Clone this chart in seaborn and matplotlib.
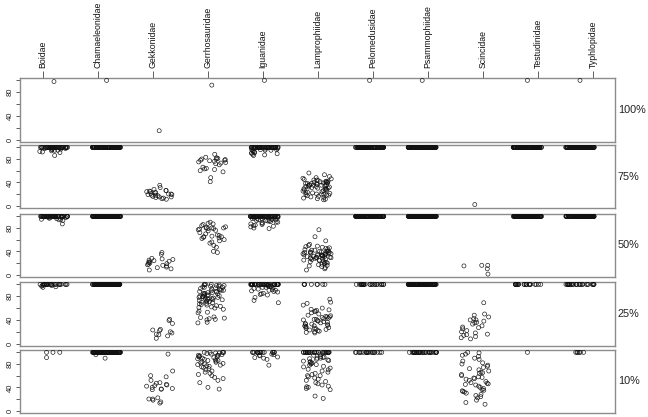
import numpy as np
import pandas as pd
import matplotlib
matplotlib.use("Agg")
import matplotlib.pyplot as plt
import seaborn as sns

sns.set_theme(style="white")
plt.rcParams["font.family"] = ["Liberation Sans", "DejaVu Sans"]

families = ["Boidae", "Chamaeleonidae", "Gekkonidae", "Gerrhosauridae", "Iguanidae",
            "Lamprophiidae", "Pelomedusidae", "Psammophiidae", "Scincidae",
            "Testudinidae", "Typhlopidae"]
panel_labels = ["100%", "75%", "50%", "25%", "10%"]

p100 = {
    "Boidae": [98], "Chamaeleonidae": [100], "Gekkonidae": [15], "Gerrhosauridae": [92],
    "Iguanidae": [100], "Lamprophiidae": [], "Pelomedusidae": [100], "Psammophiidae": [100],
    "Scincidae": [], "Testudinidae": [100], "Typhlopidae": [100],
}

p75 = {
    "Boidae": [100] * 45 + [99, 99, 98, 98, 97, 97, 96, 95, 95, 94, 93, 92, 91, 86],
    "Chamaeleonidae": [100] * 120,
    "Gekkonidae": [35, 31, 28, 26, 25, 24, 23, 22, 21, 20, 20, 19, 18, 18, 17, 16, 15, 15,
                   14, 13, 12, 11, 24, 26, 19],
    "Gerrhosauridae": [88, 83, 82, 81, 80, 80, 79, 78, 77, 76, 75, 74, 73, 72, 70, 66, 64,
                       63, 62, 60, 58, 48, 41, 78],
    "Iguanidae": [100] * 50 + [99, 99, 98, 98, 97, 97, 96, 96, 95, 95, 94, 93, 92, 91, 90,
                               90, 89, 88, 87, 86],
    "Lamprophiidae": [56, 53, 50, 48, 47, 46, 45, 44, 43, 42, 42, 41, 40, 40, 40, 39, 39, 38,
                      38, 37, 37, 36, 36, 35, 35, 34, 34, 33, 33, 32, 32, 31, 30, 30, 29, 28,
                      27, 26, 25, 24, 23, 22, 21, 20, 20, 19, 19, 18, 18, 17, 16, 15, 14, 13,
                      12, 11, 10, 22, 28, 35, 41, 44, 38, 26, 30],
    "Pelomedusidae": [100] * 120,
    "Psammophiidae": [100] * 120,
    "Scincidae": [2],
    "Testudinidae": [100] * 120,
    "Typhlopidae": [100] * 120,
}

p50 = {
    "Boidae": [100] * 50 + [99, 99, 98, 98, 97, 97, 96, 95, 95, 94, 93, 87],
    "Chamaeleonidae": [100] * 120,
    "Gekkonidae": [38, 35, 28, 27, 26, 25, 24, 23, 22, 21, 20, 19, 18, 17, 16, 15, 13, 12,
                   10, 8],
    "Gerrhosauridae": [90, 88, 87, 86, 84, 82, 81, 80, 80, 80, 79, 79, 78, 77, 76, 75, 72,
                       70, 68, 67, 66, 65, 65, 64, 63, 62, 60, 58, 56, 54, 50, 47, 40, 38],
    "Iguanidae": [100] * 60 + [99, 99, 98, 98, 97, 97, 96, 96, 96, 95, 95, 94, 94, 93, 93,
                               92, 92, 91, 90, 90, 89, 88, 87, 86, 85, 84, 83, 82, 80, 79],
    "Lamprophiidae": [77, 65, 58, 52, 50, 49, 48, 47, 46, 45, 44, 43, 42, 41, 40, 40, 39, 39,
                      38, 38, 37, 37, 36, 36, 35, 35, 34, 34, 33, 33, 32, 32, 31, 31, 30, 30,
                      29, 29, 28, 28, 27, 27, 26, 25, 25, 24, 23, 22, 21, 20, 20, 19, 18, 17,
                      16, 15, 14, 12, 10, 8, 42, 38, 34, 31, 29, 36, 40, 33],
    "Pelomedusidae": [100] * 120,
    "Psammophiidae": [100] * 120,
    "Scincidae": [16, 10, 15, 16, 1],
    "Testudinidae": [100] * 120,
    "Typhlopidae": [100] * 120,
}

p25 = {
    "Boidae": [100] * 25 + [99, 98, 98, 97, 96, 95],
    "Chamaeleonidae": [100] * 120,
    "Gekkonidae": [41, 39, 34, 24, 23, 22, 20, 18, 16, 15, 13, 9],
    "Gerrhosauridae": [100, 100, 100, 99, 99, 98, 98, 97, 97, 96, 95, 95, 94, 93, 92, 92, 91,
                       90, 90, 89, 88, 88, 87, 86, 85, 85, 84, 83, 82, 82, 81, 80, 80, 79, 78,
                       78, 77, 76, 75, 75, 74, 73, 72, 71, 70, 69, 68, 67, 66, 65, 64, 63, 62,
                       61, 60, 58, 55, 53, 52, 45, 44, 43, 42, 41, 40, 36, 35, 74, 76, 81, 86,
                       79, 72],
    "Iguanidae": [100] * 40 + [99, 98, 98, 97, 96, 96, 95, 95, 94, 93, 92, 91, 90, 90, 89, 88,
                               87, 85, 84, 83, 82, 78, 73, 69],
    "Lamprophiidae": [100] * 8 + [75, 70, 68, 65, 60, 58, 57, 56, 55, 54, 52, 50, 48, 47, 46,
                                  45, 45, 44, 43, 42, 41, 40, 39, 38, 37, 36, 35, 34, 33, 32,
                                  31, 30, 30, 29, 28, 27, 26, 25, 24, 23, 22, 21, 20, 19, 18,
                                  26, 33, 41],
    "Pelomedusidae": [100] * 25,
    "Psammophiidae": [100] * 100,
    "Scincidae": [69, 50, 48, 45, 42, 40, 40, 38, 36, 35, 33, 30, 28, 27, 25, 22, 20, 18, 16,
                  15, 14, 12, 10, 8],
    "Testudinidae": [100] * 22,
    "Typhlopidae": [100] * 28,
}

p10 = {
    "Boidae": [91, 100, 100, 100],
    "Chamaeleonidae": [100] * 100 + [96, 90],
    "Gekkonidae": [97, 68, 60, 58, 52, 47, 45, 44, 42, 40, 38, 37, 37, 36, 22, 20, 20, 18,
                   15, 13, 48, 43],
    "Gerrhosauridae": [100, 100, 100, 100, 100, 99, 99, 98, 97, 96, 95, 95, 94, 93, 92, 91,
                       90, 89, 88, 87, 86, 85, 84, 83, 82, 81, 80, 79, 78, 77, 76, 75, 74, 72,
                       70, 68, 66, 64, 62, 60, 57, 55, 52, 48, 40, 37, 86, 92, 95],
    "Iguanidae": [100] * 15 + [99, 97, 96, 95, 94, 92, 91, 90, 88, 78],
    "Lamprophiidae": [100] * 30 + [97, 95, 93, 92, 91, 90, 90, 89, 88, 87, 86, 85, 84, 83,
                                   82, 81, 80, 79, 78, 76, 75, 73, 71, 70, 68, 66, 64, 62, 60,
                                   58, 56, 54, 52, 50, 48, 46, 44, 42, 41, 40, 38, 36, 25, 21,
                                   60],
    "Pelomedusidae": [100] * 20,
    "Psammophiidae": [100] * 35,
    "Scincidae": [100, 99, 97, 95, 93, 90, 88, 85, 82, 80, 78, 76, 74, 72, 70, 68, 66, 64, 62,
                  60, 58, 56, 55, 54, 52, 50, 48, 46, 45, 44, 42, 40, 38, 36, 35, 34, 33, 32,
                  30, 28, 26, 24, 22, 18, 14, 11, 65, 57, 47],
    "Testudinidae": [100],
    "Typhlopidae": [100] * 6,
}

panels = [p100, p75, p50, p25, p10]


def to_frame(d):
    rows = [(fam, v) for fam in families for v in d.get(fam, [])]
    return pd.DataFrame(rows, columns=["family", "value"])


np.random.seed(7)
W, H = 648, 417
fig = plt.figure(figsize=(W / 100, H / 100), dpi=100)

left, right = 20 / W, 615 / W
tops = [78, 145, 214, 282, 350]
bots = [142, 208, 277, 346, 413]
edge = "#8c8c8c"

for i, (d, lab) in enumerate(zip(panels, panel_labels)):
    ax = fig.add_axes([left, 1 - bots[i] / H, right - left, (bots[i] - tops[i]) / H])
    df = to_frame(d)
    sns.stripplot(data=df, x="family", y="value", order=families, ax=ax,
                  jitter=(0.27 if i > 0 else False), size=2.9, color="black",
                  facecolor="none", edgecolor="black", linewidth=0.45)
    for coll in ax.collections:
        coll.set_facecolor("none")
        coll.set_edgecolor("#111111")
    ax.set_xlim(-0.646, 10.665)
    ax.set_ylim(-4, 104)
    ax.set_xlabel("")
    ax.set_ylabel("")
    for s in ax.spines.values():
        s.set_color(edge)
        s.set_linewidth(1.0)
    ax.set_yticks([0, 20, 40, 60, 80, 100])
    ax.set_yticklabels(["0", "", "40", "", "80", ""], rotation=90, va="center",
                       fontsize=5.5, color="#222222")
    ax.tick_params(axis="y", left=True, length=3, width=0.6, color="#444444", pad=1.5)
    tickpos = np.linspace(-0.209, 10.247, len(families))
    if i == 0:
        ax.xaxis.tick_top()
        ax.set_xticks(tickpos)
        ax.set_xticklabels(families, rotation=90, fontsize=6.3, color="#111111")
        ax.tick_params(axis="x", top=True, bottom=False, length=5, width=0.6,
                       color="#444444", pad=2)
    else:
        ax.set_xticks([])
    ax.text(1.005, 0.5, lab, transform=ax.transAxes, ha="left", va="center",
            fontsize=7.8, color="#222222")

fig.savefig("out.png", dpi=100)
